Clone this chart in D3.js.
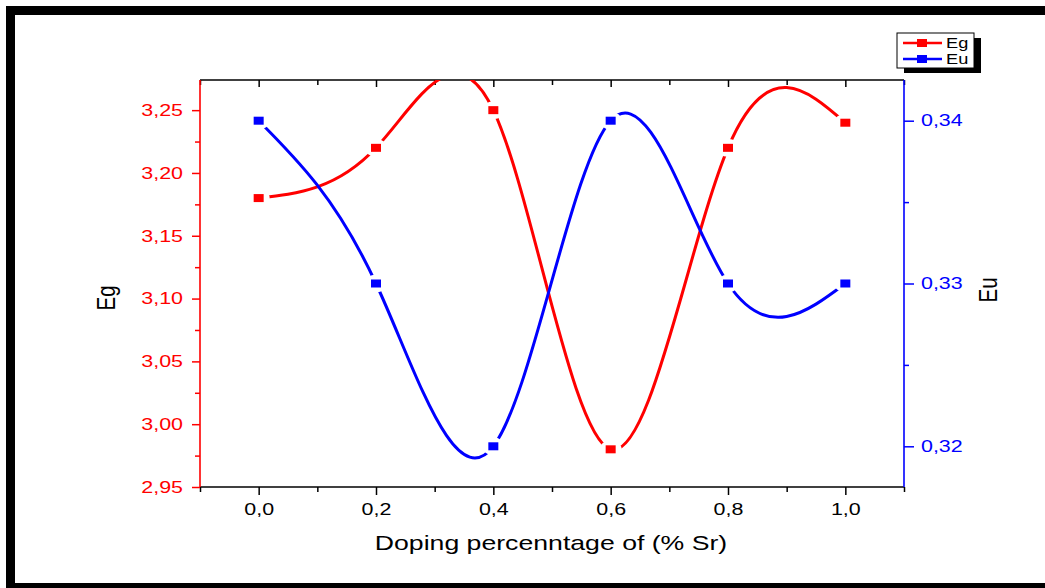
<!DOCTYPE html>
<html>
<head>
<meta charset="utf-8">
<script src="https://cdn.jsdelivr.net/npm/d3@7"></script>
<style>
  html, body { margin: 0; padding: 0; background: #fff; }
  svg { display: block; }
  text { font-family: "Liberation Sans", Arial, sans-serif; }
</style>
</head>
<body>
<svg id="chart" width="1045" height="588"></svg>
<script>
// Sr doping level (fraction) and measured energies
const doping = [0.0, 0.2, 0.4, 0.6, 0.8, 1.0];
const egValues = [3.18, 3.22, 3.25, 2.98, 3.22, 3.24];
const euValues = [0.34, 0.33, 0.32, 0.34, 0.33, 0.33];

// Tick values
const xMajorTicks = [0.0, 0.2, 0.4, 0.6, 0.8, 1.0];
const xMinorTicks = [-0.1, 0.1, 0.3, 0.5, 0.7, 0.9, 1.1];
const egMajorTicks = [2.95, 3.00, 3.05, 3.10, 3.15, 3.20, 3.25];
const egMinorTicks = [2.975, 3.025, 3.075, 3.125, 3.175, 3.225];
const euMajorTicks = [0.32, 0.33, 0.34];
const euMinorTicks = [0.325, 0.335];

const RED = "#ff0000", BLUE = "#0000ff";
const SX = 1.3; // horizontal stretch applied to all lettering

const svg = d3.select("#chart");
const W = 1045, H = 588;
const plot = { left: 200, right: 904, top: 80, bottom: 487 };

const loc = d3.formatLocale({ decimal: ",", thousands: ".", grouping: [3], currency: ["", ""] });
const f1 = loc.format(".1f"), f2 = loc.format(".2f");

const x = d3.scaleLinear().domain([-0.1, 1.1]).range([plot.left, plot.right]);
const yEg = d3.scaleLinear().domain([2.95, 3.274]).range([plot.bottom, plot.top]);
const yEu = d3.scaleLinear().domain([0.3175, 0.3425]).range([plot.bottom, plot.top]);

// Outer frame
svg.append("rect").attr("x", 6).attr("y", 6).attr("width", W).attr("height", 9).attr("fill", "#000");
svg.append("rect").attr("x", 6).attr("y", 6).attr("width", 9).attr("height", H).attr("fill", "#000");
svg.append("rect").attr("x", 6).attr("y", 583).attr("width", W).attr("height", 5).attr("fill", "#000");

// Stretch helper for text inside axis groups
function stretchLabels(g, anchorShift) {
  g.selectAll(".tick text").each(function () {
    const t = d3.select(this);
    const tx = +t.attr("x") || 0;
    t.attr("x", tx / SX).attr("transform", `scale(${SX},1)`);
  });
}

function styleAxis(g, color) {
  g.select(".domain").remove();
  g.selectAll(".tick line").attr("stroke", color).attr("stroke-width", 1.5);
  g.selectAll(".tick text").attr("fill", color).attr("font-size", 16.5);
}

// Bottom axis (major + minor)
const gxMinor = svg.append("g").attr("transform", `translate(0,${plot.bottom})`)
  .call(d3.axisBottom(x).tickValues(xMinorTicks).tickSize(5).tickFormat(""));
styleAxis(gxMinor, "#000");
const gx = svg.append("g").attr("transform", `translate(0,${plot.bottom})`)
  .call(d3.axisBottom(x).tickValues(xMajorTicks).tickSize(8).tickPadding(8).tickFormat(f1));
styleAxis(gx, "#000");
stretchLabels(gx);

// Top axis: inward ticks, no labels
const gtMinor = svg.append("g").attr("transform", `translate(0,${plot.top})`)
  .call(d3.axisBottom(x).tickValues(xMinorTicks).tickSize(5).tickFormat(""));
styleAxis(gtMinor, "#000");
const gt = svg.append("g").attr("transform", `translate(0,${plot.top})`)
  .call(d3.axisBottom(x).tickValues(xMajorTicks).tickSize(7).tickFormat(""));
styleAxis(gt, "#000");

// Left axis (Eg)
const glMinor = svg.append("g").attr("transform", `translate(${plot.left},0)`)
  .call(d3.axisLeft(yEg).tickValues(egMinorTicks).tickSize(5).tickFormat(""));
styleAxis(glMinor, RED);
const gl = svg.append("g").attr("transform", `translate(${plot.left},0)`)
  .call(d3.axisLeft(yEg).tickValues(egMajorTicks).tickSize(8).tickPadding(9).tickFormat(f2));
styleAxis(gl, RED);
stretchLabels(gl);

// Right axis (Eu)
const grMinor = svg.append("g").attr("transform", `translate(${plot.right},0)`)
  .call(d3.axisRight(yEu).tickValues(euMinorTicks).tickSize(5).tickFormat(""));
styleAxis(grMinor, BLUE);
const gr = svg.append("g").attr("transform", `translate(${plot.right},0)`)
  .call(d3.axisRight(yEu).tickValues(euMajorTicks).tickSize(10).tickPadding(7).tickFormat(f2));
styleAxis(gr, BLUE);
stretchLabels(gr);

// Plot frame lines
svg.append("line").attr("x1", plot.left).attr("x2", plot.right).attr("y1", plot.top).attr("y2", plot.top)
  .attr("stroke", "#000").attr("stroke-width", 1.5);
svg.append("line").attr("x1", plot.left).attr("x2", plot.right).attr("y1", plot.bottom).attr("y2", plot.bottom)
  .attr("stroke", "#000").attr("stroke-width", 1.5);
svg.append("line").attr("x1", plot.left).attr("x2", plot.left).attr("y1", plot.top).attr("y2", plot.bottom)
  .attr("stroke", RED).attr("stroke-width", 1.6);
svg.append("line").attr("x1", plot.right).attr("x2", plot.right).attr("y1", plot.top).attr("y2", plot.bottom)
  .attr("stroke", BLUE).attr("stroke-width", 1.6);

// Clip + per-series masks (line breaks around each symbol)
const defs = svg.append("defs");
defs.append("clipPath").attr("id", "plotClip").append("rect")
  .attr("x", plot.left).attr("y", plot.top)
  .attr("width", plot.right - plot.left).attr("height", plot.bottom - plot.top);

function makeMask(id, ys, yScale) {
  const m = defs.append("mask").attr("id", id).attr("maskUnits", "userSpaceOnUse")
    .attr("x", 0).attr("y", 0).attr("width", W).attr("height", H);
  m.append("rect").attr("width", W).attr("height", H).attr("fill", "#fff");
  m.selectAll("ellipse").data(doping).join("ellipse")
    .attr("cx", d => x(d)).attr("cy", (d, i) => yScale(ys[i]))
    .attr("rx", 11).attr("ry", 9).attr("fill", "#000");
}
makeMask("egMask", egValues, yEg);
makeMask("euMask", euValues, yEu);

const line = (ys, yScale) => d3.line()
  .x((d, i) => x(doping[i]))
  .y(d => yScale(d))
  .curve(d3.curveNatural)(ys);

const clipG = svg.append("g").attr("clip-path", "url(#plotClip)");
clipG.append("path").attr("d", line(egValues, yEg)).attr("fill", "none")
  .attr("stroke", RED).attr("stroke-width", 3).attr("mask", "url(#egMask)");
clipG.append("path").attr("d", line(euValues, yEu)).attr("fill", "none")
  .attr("stroke", BLUE).attr("stroke-width", 3).attr("mask", "url(#euMask)");

// Symbols
const MW = 10, MH = 8;
svg.append("g").selectAll("rect").data(doping).join("rect")
  .attr("x", d => x(d) - MW / 2).attr("y", (d, i) => yEg(egValues[i]) - MH / 2)
  .attr("width", MW).attr("height", MH).attr("fill", RED);
svg.append("g").selectAll("rect").data(doping).join("rect")
  .attr("x", d => x(d) - MW / 2).attr("y", (d, i) => yEu(euValues[i]) - MH / 2)
  .attr("width", MW).attr("height", MH).attr("fill", BLUE);

// Axis titles
function label(txt, px, py, size, rot, anchor) {
  svg.append("text")
    .attr("transform", `translate(${px},${py}) scale(${SX},1)` + (rot ? ` rotate(${rot})` : ""))
    .attr("text-anchor", anchor || "middle")
    .attr("font-size", size).attr("fill", "#000")
    .text(txt);
}
label("Doping percenntage of (% Sr)", 551, 550, 20.5, 0);
label("Eg", 115, 298, 20.5, -90);
label("Eu", 997, 290, 20.5, -90);

// Legend with drop shadow
const lg = svg.append("g");
lg.append("rect").attr("x", 904).attr("y", 38).attr("width", 77).attr("height", 35).attr("fill", "#000");
lg.append("rect").attr("x", 897).attr("y", 33).attr("width", 77).attr("height", 35)
  .attr("fill", "#fff").attr("stroke", "#000").attr("stroke-width", 1);
const legendItems = [
  { name: "Eg", color: RED, y: 43 },
  { name: "Eu", color: BLUE, y: 59 }
];
legendItems.forEach(it => {
  lg.append("line").attr("x1", 903).attr("x2", 942).attr("y1", it.y).attr("y2", it.y)
    .attr("stroke", it.color).attr("stroke-width", 2.5);
  lg.append("rect").attr("x", 922 - 5).attr("y", it.y - 4).attr("width", 10).attr("height", 8)
    .attr("fill", it.color);
  lg.append("text").attr("transform", `translate(946,${it.y + 5}) scale(${SX},1)`)
    .attr("font-size", 14).attr("fill", "#000").text(it.name);
});
</script>
</body>
</html>
